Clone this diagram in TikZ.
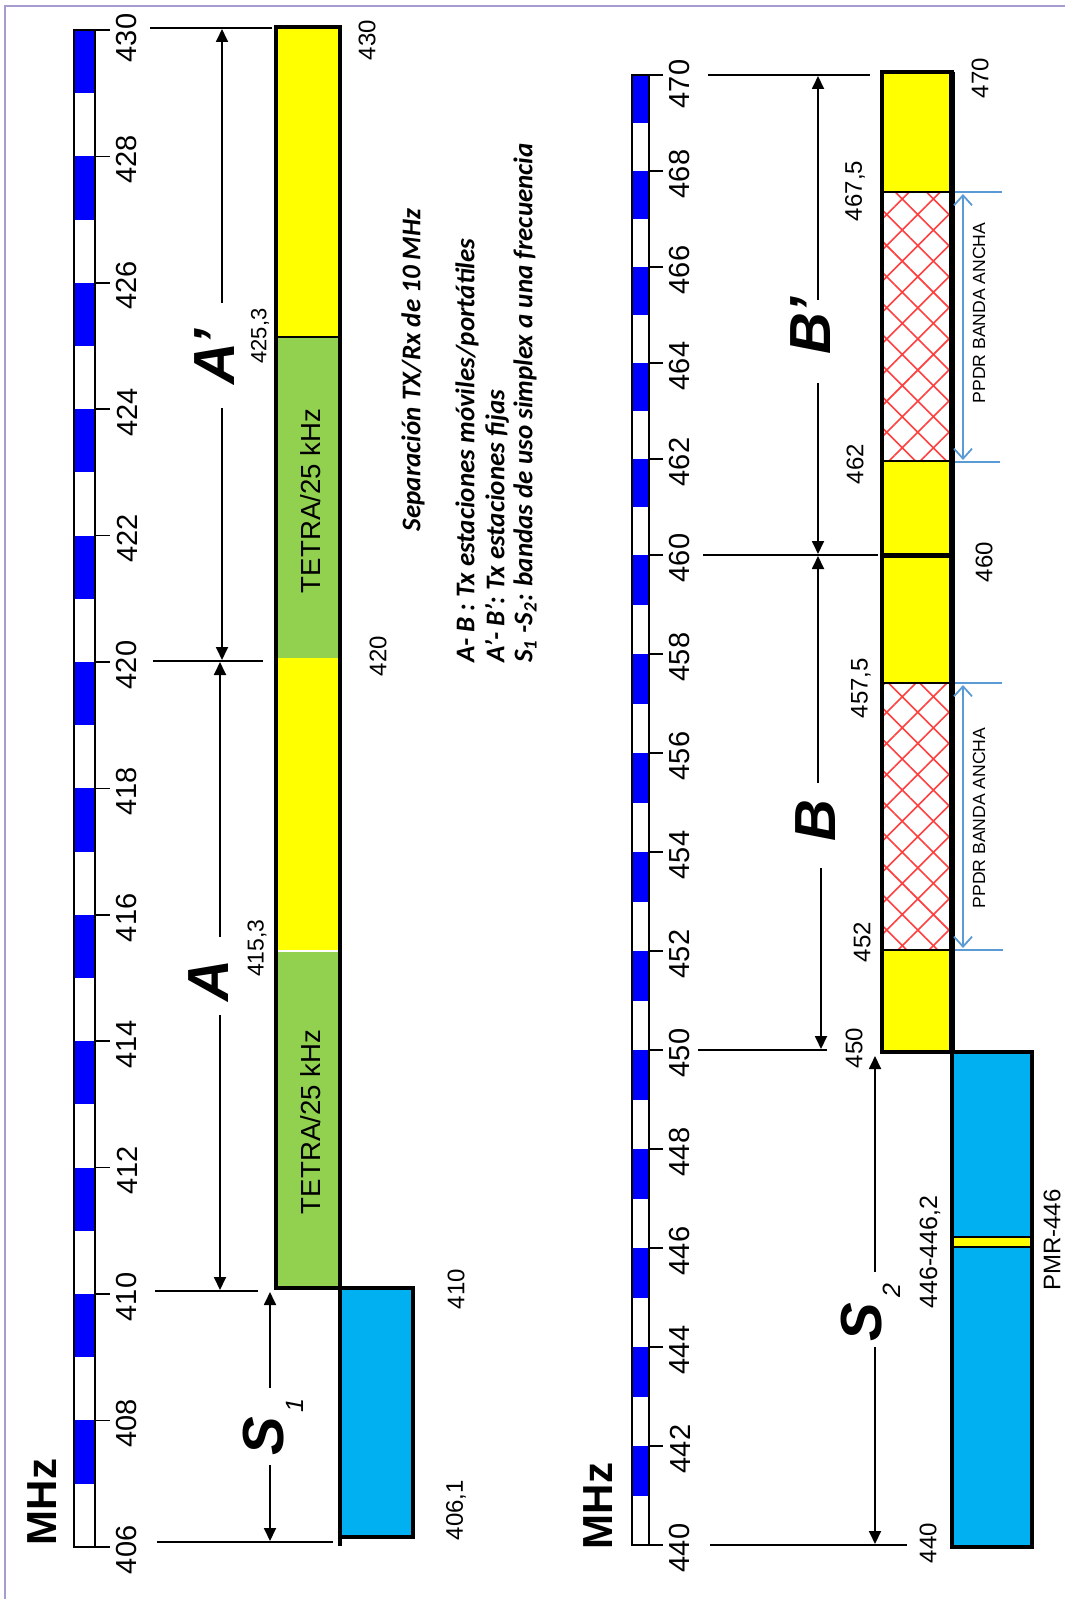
\documentclass[tikz,border=0pt]{standalone}
\usepackage{fontspec}
\setmainfont{Liberation Sans}
\newfontfamily\calfont{Carlito}
\usetikzlibrary{arrows.meta,patterns.meta}
\definecolor{yel}{HTML}{FFFF00}
\definecolor{grn}{HTML}{92D050}
\definecolor{cyanb}{HTML}{00B0F0}
\definecolor{scblue}{HTML}{0000FF}
\definecolor{ppdrc}{HTML}{5B9BD5}
\definecolor{framec}{HTML}{A89BD0}
\tikzset{
  barline/.style={draw=black,line width=2pt},
  guide/.style={draw=black,line width=0.9pt},
  dimarr/.style={draw=black,line width=0.9pt,-{Triangle[length=6.5pt,width=6pt]}},
  ppdrline/.style={draw=ppdrc,line width=0.9pt},
  ppdrarr/.style={draw=ppdrc,line width=0.9pt,{Straight Barb[length=5pt,width=9pt]}-{Straight Barb[length=5pt,width=9pt]}},
  scalelbl/.style={rotate=90,inner sep=0pt,font=\fontsize{14.5pt}{17pt}\selectfont},
  numlbl/.style={rotate=90,inner sep=0pt,font=\fontsize{12pt}{14pt}\selectfont},
  biglbl/.style={rotate=90,inner sep=0pt,font=\fontsize{29pt}{33pt}\selectfont\bfseries\itshape},
  sublbl/.style={rotate=90,inner sep=0pt,font=\fontsize{12.5pt}{14pt}\selectfont\itshape},
  midtxt/.style={rotate=90,inner sep=0pt,font=\fontsize{13.5pt}{16pt}\selectfont\calfont\bfseries\itshape},
  mhzlbl/.style={rotate=90,inner sep=0pt,font=\fontsize{21pt}{24pt}\selectfont\bfseries},
  hatchfill/.style={pattern={Hatch[angle=45,distance=11pt,line width=0.8pt]},pattern color=red!75},
}
\begin{document}
\begin{tikzpicture}[x=0.5pt,y=-0.5pt]
\useasboundingbox (0,0) rectangle (1065,1599);
% frame
\draw[framec,line width=1.2pt] (5,1599) -- (5,6) -- (1065,6);

% ---------------- left scale ----------------
\foreach \f in {408,410,...,430}{
  \pgfmathsetmacro\ya{30+(430-\f)*63.2}
  \pgfmathsetmacro\yb{\ya+63.2}
  \fill[scblue] (74,\ya) rectangle (95,\yb);
}
\draw[line width=1pt] (74,30) rectangle (95,1547);
\foreach \f in {406,408,...,430}{
  \pgfmathsetmacro\y{30+(430-\f)*63.2}
  \pgfmathsetmacro\yl{\f==430 ? \y+8 : \y+3}
  \draw[line width=0.8pt] (95,\y) -- (110,\y);
  \node[scalelbl] (sl\f) at (127,\yl) {\f};
}
\node[mhzlbl] (mhzL) at (42,1502) {MHz};

% ---------------- right scale ----------------
\foreach \f in {442,444,...,470}{
  \pgfmathsetmacro\ya{\f>459 ? 555-(\f-460)*48 : 555+(460-\f)*49.5}
  \pgfmathsetmacro\yb{(\f-1)>459 ? 555-(\f-1-460)*48 : 555+(460-\f+1)*49.5}
  \fill[scblue] (632,\ya) rectangle (649,\yb);
}
\draw[line width=1pt] (632,75) rectangle (649,1545);
\foreach \f in {440,442,...,470}{
  \pgfmathsetmacro\y{\f>459 ? 555-(\f-460)*48 : 555+(460-\f)*49.5}
  \pgfmathsetmacro\yl{\f==470 ? \y+9 : \y+3}
  \draw[line width=0.8pt] (649,\y) -- (663,\y);
  \node[scalelbl] (sr\f) at (680,\yl) {\f};
}
\node[mhzlbl] (mhzR) at (598,1506) {MHz};

% ---------------- left bar ----------------
\fill[yel] (276,27) rectangle (340,337);
\fill[grn] (276,337) rectangle (340,658);
\fill[yel] (276,658) rectangle (340,950);
\fill[grn] (276,950) rectangle (340,1288);
\draw[line width=0.6pt] (276,337) -- (340,337);
\draw[white,line width=0.8pt] (278,951) -- (338,951);
\draw[barline] (276,27) rectangle (340,1288);
\filldraw[fill=cyanb,barline] (340,1288) rectangle (413,1537);
\draw[barline] (340,1537) -- (340,1546);
\node[numlbl,font=\fontsize{13.8pt}{16pt}\selectfont] (tetra1) at (311,501) {TETRA/25 kHz};
\node[numlbl,font=\fontsize{13.8pt}{16pt}\selectfont] (tetra2) at (311,1122) {TETRA/25 kHz};

\node[numlbl] (n430) at (367,40) {430};
\node[numlbl] (n420) at (378,656) {420};
\node[numlbl] (n410) at (456,1289) {410};
\node[numlbl] (n4061) at (456,1510) {406,1};
\node[numlbl,font=\fontsize{11pt}{13pt}\selectfont] (n4253) at (260,336) {425,3};
\node[numlbl,font=\fontsize{11.5pt}{13pt}\selectfont] (n4153) at (257,948) {415,3};

% guide lines left
\draw[guide] (150,28) -- (272,28);
\draw[guide] (153,661) -- (263,661);
\draw[guide] (155,1291) -- (258,1291);
\draw[guide] (157,1542) -- (333,1542);

% dimension arrows left
\coordinate (aT) at (222,29);
\coordinate (aU) at (222,303);
\coordinate (aL) at (222,408);
\coordinate (aM) at (222,660);
\draw[dimarr] (aU) -- (aT);
\draw[dimarr] (aL) -- (aM);
\node[biglbl] (Ap) at (215,357) {A’};
\coordinate (bT) at (220,662);
\coordinate (bU) at (220,937);
\coordinate (bL) at (220,1015);
\coordinate (bM) at (220,1290);
\draw[dimarr] (bU) -- (bT);
\draw[dimarr] (bL) -- (bM);
\node[biglbl] (A) at (209,981) {A};
\coordinate (cT) at (270,1292);
\coordinate (cU) at (270,1388);
\coordinate (cL) at (270,1465);
\coordinate (cM) at (270,1541);
\draw[dimarr] (cU) -- (cT);
\draw[dimarr] (cL) -- (cM);
\node[biglbl] (S1) at (264,1436) {S};
\node[sublbl] (S1s) at (295,1406) {1};

% ---------------- middle text ----------------
\node[midtxt] (sep) at (413,370) {Separación TX/Rx de 10 MHz};
\node[midtxt,anchor=west] (leg1) at (467,663) {A- B : Tx estaciones móviles/portátiles};
\node[midtxt,anchor=west] (leg2) at (497,663) {A’- B’: Tx estaciones fijas};
\node[midtxt,anchor=west] (leg3) at (525,663) {S\textsubscript{1} -S\textsubscript{2}: bandas de uso simplex a una frecuencia};

% ---------------- right bar ----------------
\fill[yel] (882,72) rectangle (952,1052);
\fill[white] (882,192) rectangle (952,461);
\fill[hatchfill] (882,192) rectangle (952,461);
\fill[white] (882,683) rectangle (952,950);
\fill[hatchfill] (882,683) rectangle (952,950);
\draw[line width=0.6pt] (882,192) -- (952,192);
\draw[line width=0.6pt] (882,461) -- (952,461);
\draw[line width=0.6pt] (882,683) -- (952,683);
\draw[line width=0.6pt] (882,950) -- (952,950);
\draw[line width=2.5pt] (882,555) -- (952,555);
\draw[barline] (882,72) rectangle (952,1052);
\draw[line width=3pt] (952,72) -- (952,1052);
\filldraw[fill=cyanb,barline] (952,1052) rectangle (1032,1547);
\filldraw[fill=yel,line width=0.6pt] (953,1237) rectangle (1031,1247);

% PPDR
\draw[ppdrline] (955,192) -- (1002,192);
\draw[ppdrline] (955,462) -- (1000,462);
\draw[ppdrline] (955,683) -- (1002,683);
\draw[ppdrline] (955,950) -- (1003,950);
\coordinate (p1a) at (963,194);
\coordinate (p1b) at (963,460);
\coordinate (p2a) at (963,685);
\coordinate (p2b) at (963,948);
\draw[ppdrarr] (p1a) -- (p1b);
\draw[ppdrarr] (p2a) -- (p2b);
\node[rotate=90,inner sep=0pt,font=\fontsize{8.8pt}{10pt}\selectfont] (ppdr1) at (979,313) {PPDR BANDA ANCHA};
\node[rotate=90,inner sep=0pt,font=\fontsize{8.8pt}{10pt}\selectfont] (ppdr2) at (979,818) {PPDR BANDA ANCHA};

% labels right bar
\node[numlbl] (r4675) at (855,191) {467,5};
\node[numlbl] (r462) at (855,464) {462};
\node[numlbl] (r4575) at (861,688) {457,5};
\node[numlbl] (r452) at (862,942) {452};
\node[numlbl] (r450) at (854,1048) {450};
\node[numlbl,font=\fontsize{12.5pt}{14pt}\selectfont] (r446) at (930,1252) {446-446,2};
\node[numlbl] (r440) at (928,1543) {440};
\node[numlbl] (r460) at (984,562) {460};
\node[numlbl] (r470) at (980,78) {470};
\node[numlbl] (pmr) at (1052,1240) {PMR-446};

% guide lines right
\draw[guide] (708,75) -- (870,75);
\draw[guide] (703,555) -- (878,555);
\draw[guide] (698,1050) -- (827,1050);
\draw[guide] (710,1545) -- (907,1545);

% dimension arrows right
\coordinate (dT) at (818,76);
\coordinate (dU) at (818,300);
\coordinate (dL) at (818,383);
\coordinate (dM) at (818,554);
\draw[dimarr] (dU) -- (dT);
\draw[dimarr] (dL) -- (dM);
\node[biglbl] (Bp) at (811,326) {B’};
\coordinate (eT) at (818,556);
\coordinate (eU) at (818,783);
\coordinate (eL) at (821,868);
\coordinate (eM) at (821,1049);
\draw[dimarr] (eU) -- (eT);
\draw[dimarr] (eL) -- (eM);
\node[biglbl] (B) at (816,821) {B};
\coordinate (fT) at (875,1056);
\coordinate (fU) at (875,1272);
\coordinate (fL) at (875,1347);
\coordinate (fM) at (875,1544);
\draw[dimarr] (fU) -- (fT);
\draw[dimarr] (fL) -- (fM);
\node[biglbl] (S2) at (862,1322) {S};
\node[sublbl] (S2s) at (892,1291) {2};
\end{tikzpicture}
\end{document}
